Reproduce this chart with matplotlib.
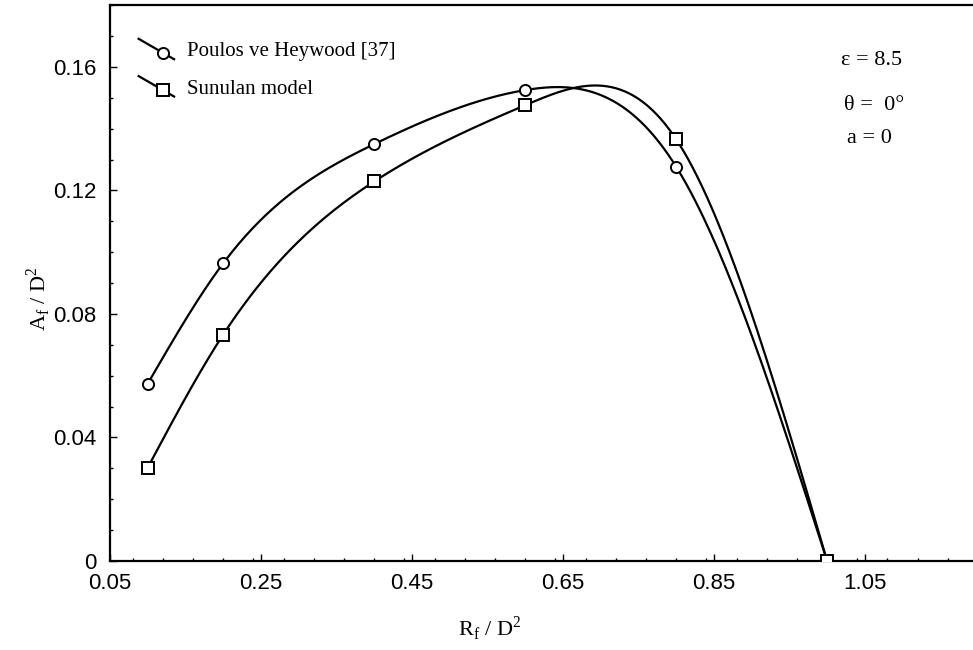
import numpy as np
import matplotlib

matplotlib.use("AGG")
from matplotlib import pyplot
from matplotlib.lines import Line2D
from matplotlib.legend_handler import HandlerLine2D
from matplotlib.ticker import MultipleLocator, FixedLocator

# R_f / D^2 sample points and A_f / D^2 for both series
rf = [0.1, 0.2, 0.4, 0.6, 0.8, 1.0]
af_poulos = [0.0574, 0.0964, 0.1350, 0.1525, 0.1277, 0.0]
af_model = [0.0302, 0.0733, 0.1229, 0.1476, 0.1366, 0.0]

x_ticks = [0.05, 0.25, 0.45, 0.65, 0.85, 1.05]
y_ticks = [0, 0.04, 0.08, 0.12, 0.16]
y_tick_labels = ["0", "0.04", "0.08", "0.12", "0.16"]
notes = ["\u03b5 = 8.5", "\u03b8 =  0\u00b0", "a = 0"]


def natural_spline(x, y, n=300):
    # natural cubic spline through the points, for a smooth curve
    x = np.asarray(x, float)
    y = np.asarray(y, float)
    k = len(x)
    h = np.diff(x)
    A = np.zeros((k, k))
    b = np.zeros(k)
    A[0, 0] = A[-1, -1] = 1.0
    for i in range(1, k - 1):
        A[i, i - 1] = h[i - 1]
        A[i, i] = 2 * (h[i - 1] + h[i])
        A[i, i + 1] = h[i]
        b[i] = 6 * ((y[i + 1] - y[i]) / h[i] - (y[i] - y[i - 1]) / h[i - 1])
    m = np.linalg.solve(A, b)
    xs = np.linspace(x[0], x[-1], n)
    j = np.clip(np.searchsorted(x, xs) - 1, 0, k - 2)
    t0 = x[j + 1] - xs
    t1 = xs - x[j]
    hj = h[j]
    ys = (m[j] * t0**3 + m[j + 1] * t1**3) / (6 * hj) \
        + (y[j] / hj - m[j] * hj / 6) * t0 \
        + (y[j + 1] / hj - m[j + 1] * hj / 6) * t1
    return xs, ys


class SlantHandler(HandlerLine2D):
    # legend key: a slanted stroke with the marker on it
    def create_artists(self, legend, orig_handle, xdescent, ydescent,
                       width, height, fontsize, trans):
        x0, x1 = -xdescent, width - xdescent
        y0, y1 = height * 1.2 - ydescent, -height * 0.2 - ydescent
        seg = Line2D([x0, x1], [y0, y1], color="black", lw=1.6)
        f = 0.7
        mk = Line2D([x0 + f * (x1 - x0)], [y0 + f * (y1 - y0)], ls="none",
                    marker=orig_handle.get_marker(), markersize=8,
                    mfc="white", mec="black", mew=1.4)
        seg.set_transform(trans)
        mk.set_transform(trans)
        return [seg, mk]


fig = pyplot.figure(figsize=(9.73, 6.5), dpi=100)
ax = fig.add_axes([0.113, 0.137, 0.931, 0.855])

serif = "Liberation Serif"
sans = "Liberation Sans"

for vals, mk, every in [(af_poulos, "o", [0, 1, 2, 3, 4]),
                        (af_model, "s", [0, 1, 2, 3, 4, 5])]:
    xs, ys = natural_spline(rf, vals)
    ax.plot(xs, ys, color="black", lw=1.6, zorder=2)
    ax.plot([rf[i] for i in every], [vals[i] for i in every], ls="none",
            marker=mk, markersize=8, mfc="white", mec="black", mew=1.4, zorder=3)

handles = [Line2D([], [], color="black", marker="o"),
           Line2D([], [], color="black", marker="s")]
ax.legend(handles, ["Poulos ve Heywood [37]", "Sunulan model"],
          handler_map={Line2D: SlantHandler()}, loc="upper left",
          bbox_to_anchor=(0.011, 0.968), frameon=False, handlelength=1.7,
          handletextpad=0.6, labelspacing=0.85,
          prop={"family": serif, "size": 15})

ax.text(0.896, 0.907, notes[0], transform=fig.transFigure, ha="center", va="center",
        family=serif, fontsize=16)
ax.text(0.898, 0.838, notes[1], transform=fig.transFigure, ha="center", va="center",
        family=serif, fontsize=16)
ax.text(0.894, 0.787, notes[2], transform=fig.transFigure, ha="center", va="center",
        family=serif, fontsize=16)

ax.set_xlim(0.05, 1.25)
ax.set_ylim(0, 0.18)
ax.xaxis.set_major_locator(FixedLocator(x_ticks))
ax.xaxis.set_minor_locator(MultipleLocator(0.04))
ax.yaxis.set_major_locator(FixedLocator(y_ticks))
ax.yaxis.set_minor_locator(MultipleLocator(0.01))
ax.set_xticklabels([f"{v:.2f}" for v in x_ticks], family=sans, fontsize=16)
ax.set_yticklabels(y_tick_labels, family=sans, fontsize=16)
ax.tick_params(which="both", direction="in", width=1.0)
ax.tick_params(which="major", length=5)
ax.tick_params(axis="x", which="major", pad=9)
ax.tick_params(axis="y", which="major", pad=10)
ax.tick_params(which="minor", length=2.5)
for s in ax.spines.values():
    s.set_linewidth(1.6)

fig.text(0.503, 0.033, r"R$_\mathregular{f}$ / D$^\mathregular{2}$", ha="center",
         va="center", family=serif, fontsize=16)
fig.text(0.04, 0.54, r"A$_\mathregular{f}$ / D$^\mathregular{2}$", ha="center",
         va="center", rotation=90, family=serif, fontsize=16)

pyplot.savefig("out.png", dpi=100)
pyplot.close()
